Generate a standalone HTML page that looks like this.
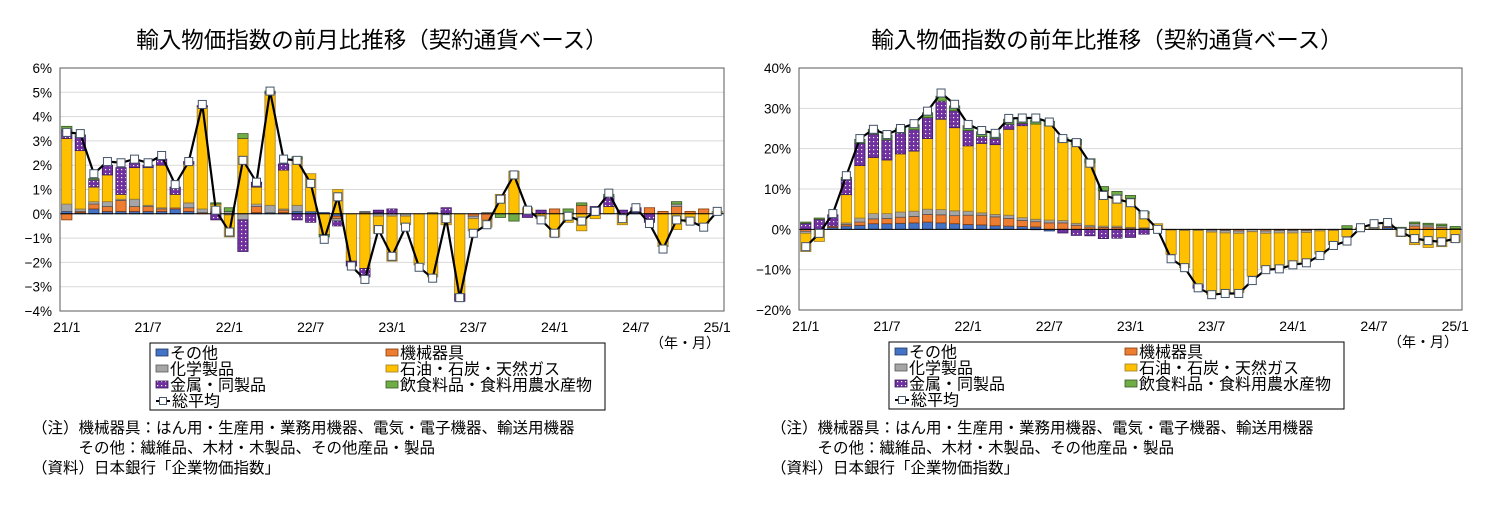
<!DOCTYPE html>
<html><head><meta charset="utf-8">
<style>
body{margin:0;background:#fff;width:1494px;height:517px;overflow:hidden;font-family:"Liberation Sans","Noto Sans CJK JP",sans-serif;}
svg{position:absolute;left:0;top:0}
text{font-family:"Liberation Sans","Noto Sans CJK JP",sans-serif;fill:#000}
</style></head><body>
<svg id="chart" width="1494" height="517" xmlns="http://www.w3.org/2000/svg">
<defs>
<pattern id="dots" width="4" height="4" patternUnits="userSpaceOnUse"><rect width="4" height="4" fill="#7030a0"/><rect x="1" y="1" width="1.2" height="1.2" fill="#fff"/></pattern>
</defs>
<text x="372" y="48" font-size="22.5" text-anchor="middle">輸入物価指数の前月比推移（契約通貨ベース）</text>
<text x="1107" y="48" font-size="22.5" text-anchor="middle">輸入物価指数の前年比推移（契約通貨ベース）</text>
</svg>
<script>
const categories = ["21/1","21/7","22/1","22/7","23/1","23/7","24/1","24/7","25/1"];
const seriesNames = ["その他","機械器具","化学製品","石油・石炭・天然ガス","金属・同製品","飲食料品・食料用農水産物"];
// left chart (month-on-month)
const momOther = [0.1,0.05,0.2,0.1,0.1,0.1,0.1,0.1,0.2,0.1,0,0.05,-0.05,0,0.05,0.05,0.05,0.1,0.1,0.05,-0.1,0,0,0.05,0,0,0,0,0,0,0,0,0,0,0,0,0,0,0,0,0,0,0.05,0,0,0,0,0,0];
const momMach = [-0.25,0.05,0.2,0.2,0.45,0.2,0.2,0.1,0.05,0.15,0.05,0.05,0,0,0.25,0,0.1,0,0,0,-0.1,0,0.05,0,0,0,0,0,0,0,-0.1,-0.25,0,0,0,0,0.2,0,0.35,0,0,0,0,0.25,0.1,0.3,0.1,0.2,0];
const momChem = [0.3,0.1,0.1,0.2,0.05,0.3,0.05,0.05,0,0.2,0.15,0.1,0.1,-0.25,0.1,0.3,0.05,0.25,0,0,-0.1,0,0.05,-0.1,-0.1,-0.1,0,0.05,0,0,-0.1,0.05,0,0,0,0,0,0,0,0,0,0,0,0,0,0.1,0,0,0];
const momOil = [2.7,2.4,0.6,1.1,0.2,1.3,1.55,1.75,0.55,1.6,4.2,0.2,-0.9,3.1,0.7,4.6,1.6,1.9,1.55,-0.85,1.0,-1.95,-2.25,-0.7,-1.85,-0.35,-2.1,-2.6,-0.45,-3.3,-0.5,-0.3,0.8,1.75,0.25,-0.2,-0.95,-0.35,-0.7,-0.2,0.3,-0.45,0,0,-1.35,-0.65,-0.35,-0.4,0.1];
const momMetal = [0.35,0.6,0.3,0.4,1.1,0.2,0.1,0.25,0.3,0.1,0.05,-0.25,0,-1.3,0.2,0.05,0.25,-0.25,-0.35,0,-0.2,-0.2,-0.35,0.1,0.2,0,0,0,0.25,-0.3,0,0,0,0,-0.15,0.15,0,0,0,0.3,0.4,0.15,0.2,-0.35,0,0,0,0,0];
const momFood = [0.15,0.05,0.05,0,0,0,0,0,0,0,0,0.05,0.15,0.2,0,0.05,0,0.1,0,-0.1,0,0,0,0,0,0,0,0,0,0,0,0,-0.15,-0.3,0,0,0,0.2,0.1,0,0.1,0,0,0,0,0.1,0,0,0];
const momTotal = [3.35,3.3,1.65,2.15,2.1,2.25,2.1,2.4,1.2,2.15,4.5,0.15,-0.75,2.2,1.3,5.05,2.25,2.2,1.25,-1.05,0.7,-2.15,-2.7,-0.65,-1.75,-0.55,-2.2,-2.65,-0.2,-3.45,-0.8,-0.45,0.6,1.6,0.15,-0.25,-0.8,-0.1,-0.3,0.1,0.85,-0.2,0.25,-0.4,-1.45,-0.25,-0.3,-0.55,0.1];
const momTicks = [6,5,4,3,2,1,0,-1,-2,-3,-4];
// right chart (year-on-year)
const yoyOther = [0,0,0.5,0.8,1,1.4,1.4,1.5,1.6,1.8,1.6,1.4,1.2,1.1,0.9,0.8,0.7,0.6,-0.4,-0.1,-0.1,0,0,0,0,0,0,0,0,0,0,0,0,0,0,0,0,0,0,0,0.2,0.1,0,0.5,0,0,0,0,0];
const yoyMach = [-0.5,0,0.3,0.4,0.8,1.2,1.3,1.5,1.6,1.9,2,2,2.3,2.4,2.2,1.9,1.5,1.3,1.6,1.6,1,0.6,0.5,0.5,0.3,0.2,0.2,0,0,0,-0.2,-0.3,-0.4,0,-0.4,-0.3,-0.3,-0.3,0,0,0,0.1,0,0.5,0,0.8,0.6,0.5,0.2];
const yoyChem = [-0.5,0,0,0.4,1,1.3,1.2,1.3,1.3,1.3,1.3,1.2,1,0.6,0.6,0.8,0.7,0.6,0.7,0.6,0.5,0.4,0.3,0.3,0.2,0.2,0,-0.2,-0.3,-0.3,-0.5,-0.6,-0.6,-0.6,-0.6,-0.6,-0.6,-0.5,-0.4,-0.3,0,0,0.3,0,0,0.6,0.5,0.4,0];
const yoyOil = [-4.5,-3,0,7,13,13.9,13.3,14.4,14.9,17.5,22.4,20.6,16.2,17.2,17.3,21.3,22.8,23.6,23.5,19.5,19.6,15.5,8.8,7.6,7.2,3.5,1.2,-6,-9.2,-13.5,-15.5,-15,-14.7,-11,-8.6,-8.7,-7.8,-7.2,-5.7,-3.5,-1.8,0.2,0.5,0.3,-1.8,-3.8,-4.5,-4.3,-3.2];
const yoyMetal = [1.5,2.5,2.8,3.8,5.5,5.8,5,5.2,5.3,5.2,4.5,4.2,3.8,1.7,1.5,1.3,0.6,-0.1,0,-0.8,-1.4,-1.6,-2.3,-2.2,-2,-1.2,0,0,0,-0.8,0,0,0,0,0,0,0,0,0,0,0,0,0,0,0,0,0,0,0];
const yoyFood = [0.3,0.3,0,0.5,1,1.2,1.2,1.2,1.2,1.2,1.2,1.2,1.2,1.2,1.2,1.2,1,1,1,1,1.2,1,1,1,0.7,0.5,0,0,0,0,0,0,0,0,0,0,0,0,0,0,0.7,0,0,0,0.5,0.4,0.4,0.4,0.5];
const yoyTotal = [-4.3,-1,3.9,13.3,22.5,24.8,23.5,25,26.2,29.3,33.8,31,26,24.5,23.8,27.5,27.6,27.6,26.6,22.5,21.5,16.4,8.4,7.5,6.6,3.6,0,-7.3,-9.5,-14.5,-16.2,-15.9,-15.9,-12.7,-10,-9.8,-8.8,-8.3,-6.5,-4,-2.9,0.4,1.4,1.7,-0.7,-2.3,-2.8,-3.1,-2.3];
const yoyTicks = [40,30,20,10,0,-10,-20];

const NS="http://www.w3.org/2000/svg";
const svg=document.getElementById('chart');
const fills=["#4472c4","#ed7d31","#a5a5a5","#ffc000","url(#dots)","#70ad47"];
const strokes=["#203864","#843c0c","#595959","#9c7a2c","#3a1a5a","#385723"];
function el(tag,attrs,parent){const e=document.createElementNS(NS,tag);for(const k in attrs)e.setAttribute(k,attrs[k]);(parent||svg).appendChild(e);return e;}

function drawChart(prefix,box,ymin,ymax,ticks,series,total){
  const g=el('g',{});
  
  
  const y=v=>box.y1-(v-ymin)/(ymax-ymin)*(box.y1-box.y0);
  const n=total.length, slot=(box.x1-box.x0)/n;
  const x=i=>box.x0+slot*(i+0.5);
  ticks.forEach(t=>{
    if(t!==ymax&&t!==ymin&&t!==0){const gl=el('line',{x1:box.x0,x2:box.x1,y1:y(t),y2:y(t),stroke:'#d9d9d9','stroke-width':1},g);
      
      }
    const tl=el('text',{x:box.x0-8,y:y(t)+5,'font-size':13.5,'text-anchor':'end'},g);
    tl.textContent=(t<0?'−'+Math.abs(t):t)+'%';
    
    
  });
  const bw=slot*0.76;
  for(let i=0;i<n;i++){
    let pos=0,neg=0;
    series.forEach((s,k)=>{
      const v=s[i]; if(!v) return;
      let a,b; if(v>0){a=pos;b=pos+v;pos=b;}else{a=neg;b=neg+v;neg=b;}
      const r=el('rect',{x:x(i)-bw/2,y:Math.min(y(a),y(b)),width:bw,height:Math.abs(y(a)-y(b)),fill:fills[k],stroke:strokes[k],'stroke-width':0.8},g);
      
      
    });
  }
  const zl=el('line',{x1:box.x0,x2:box.x1,y1:y(0),y2:y(0),stroke:'#000','stroke-width':1},g);
  
  
  const frame=el('rect',{x:box.x0,y:box.y0,width:box.x1-box.x0,height:box.y1-box.y0,fill:'none',stroke:'#595959','stroke-width':1},g);
  
  
  const pl=el('polyline',{points:total.map((v,i)=>x(i)+','+y(v)).join(' '),fill:'none',stroke:'#000','stroke-width':2.2},g);
  
  
  total.forEach((v,i)=>{
    const m=el('rect',{x:x(i)-4,y:y(v)-4,width:8,height:8,fill:'#fff',stroke:'#44546a','stroke-width':1},g);
    
    
  });
  categories.forEach((c,j)=>{
    const t=el('text',{x:x(j*6),y:box.y1+21,'font-size':14,'text-anchor':'middle'},g);
    t.textContent=c;
    
    
  });
  const u=el('text',{x:box.x1-4,y:box.y1+37,'font-size':14,'text-anchor':'end'},g);
  u.textContent='（年・月）';
  
  
  const lx=box.x0+90, ly=box.y1+32;
  const lb=el('rect',{x:lx,y:ly,width:455,height:67,fill:'#fff',stroke:'#000','stroke-width':1},g);
  
  
  [0,1,2,3,4,5].forEach((k,j)=>{
    const cx=lx+6+(j%2)*230, cy=ly+10+Math.floor(j/2)*16;
    const sw=el('rect',{x:cx,y:cy-4,width:12,height:7,fill:fills[k],stroke:strokes[k],'stroke-width':0.8},g);
    
    
    const t=el('text',{x:cx+14,y:cy+5.5,'font-size':16},g);
    t.textContent=seriesNames[k];
    
    
  });
  const cy=ly+58, cx=lx+6;
  const ll=el('line',{x1:cx,x2:cx+14,y1:cy,y2:cy,stroke:'#000','stroke-width':2},g);
  
  
  const lm=el('rect',{x:cx+3.5,y:cy-3.5,width:7,height:7,fill:'#fff',stroke:'#44546a'},g);
  
  
  const lt=el('text',{x:cx+16,y:cy+5.5,'font-size':16},g);
  lt.textContent='総平均';
  
  
  const notes=['（注）機械器具：はん用・生産用・業務用機器、電気・電子機器、輸送用機器','　　　その他：繊維品、木材・木製品、その他産品・製品','（資料）日本銀行「企業物価指数」'];
  notes.forEach((s,j)=>{
    const t=el('text',{x:box.x0-28,y:433+j*20,'font-size':15.5},g);
    t.textContent=s;
    
    
  });
}
drawChart('mom',{x0:60,x1:724,y0:68,y1:311},-4,6,momTicks,[momOther,momMach,momChem,momOil,momMetal,momFood],momTotal);
drawChart('yoy',{x0:799,x1:1462,y0:68,y1:310},-20,40,yoyTicks,[yoyOther,yoyMach,yoyChem,yoyOil,yoyMetal,yoyFood],yoyTotal);
</script>
</body></html>
